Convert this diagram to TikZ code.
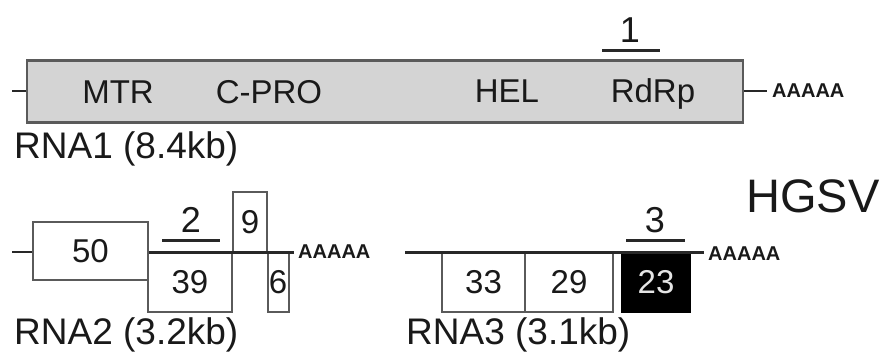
\documentclass[tikz,border=0pt]{standalone}
\usepackage{fontspec}
\setmainfont{Liberation Sans}
\definecolor{genefill}{RGB}{212,212,212}
\definecolor{edgegray}{RGB}{90,90,90}
\definecolor{linedark}{RGB}{40,40,40}
\definecolor{textdark}{RGB}{25,25,25}
\begin{document}
\begin{tikzpicture}[x=1pt,y=-1pt,
  rnabox/.style={draw=edgegray, line width=2.8pt, fill=genefill, inner sep=0pt},
  orfbox/.style={draw=edgegray, line width=2pt, fill=white, inner sep=0pt,
    font=\fontsize{33}{33}\selectfont, text=textdark},
  rnaline/.style={draw=linedark, line width=3pt},
  thinline/.style={draw=linedark, line width=2.2pt},
  barline/.style={draw=linedark, line width=3pt},
  domlabel/.style={inner sep=0pt, anchor=base, font=\fontsize{33}{33}\selectfont, text=textdark},
  rnalabel/.style={inner sep=0pt, anchor=base west, font=\fontsize{37}{37}\selectfont, text=textdark},
  numlabel/.style={inner sep=0pt, anchor=base, font=\fontsize{36}{36}\selectfont, text=textdark},
  polya/.style={inner sep=0pt, anchor=west, font=\fontsize{20}{20}\bfseries\selectfont, text=textdark}
]
\useasboundingbox (0,0) rectangle (889,354);

% ---------- RNA1 ----------
\node[rnabox, minimum width=716pt, minimum height=62pt] (rna1) at (385,91.5) {};
\coordinate (l1) at (12,91);
\coordinate (r1) at (767,91);
\draw[thinline] (l1) -- (rna1.west |- l1);
\draw[thinline] (rna1.east |- r1) -- (r1);
\node[polya] (pa1) at (772,91) {AAAAA};
\node[domlabel] (mtr) at (118,103) {MTR};
\node[domlabel] (cpro) at (269,103) {C-PRO};
\node[domlabel] (hel) at (507,102) {HEL};
\node[domlabel] (rdrp) at (653,102) {RdRp};
\node[numlabel] (n1) at (630,42) {1};
\draw[barline] (602,50) -- (660,50);
\node[rnalabel] (lab1) at (14,158) {RNA1 (8.4kb)};

% ---------- RNA2 ----------
\node[orfbox, minimum width=115pt, minimum height=58pt] (b50) at (90.5,251) {50};
\node[orfbox, minimum width=84pt, minimum height=59pt] (b39) at (190,282) {39};
\node[orfbox, minimum width=34pt, minimum height=60pt] (b9) at (250,222) {9};
\node[orfbox, minimum width=21pt, minimum height=59pt] (b6) at (278,282) {6};
\coordinate (l2) at (12,252);
\coordinate (r2) at (294,252);
\draw[thinline] (l2) -- (b50.west |- l2);
\draw[rnaline] (b50.east |- r2) -- (r2);
\node[polya] (pa2) at (298,252) {AAAAA};
\node[numlabel] (n2) at (191,232) {2};
\draw[barline] (162,240) -- (220,240);
\node[rnalabel] (lab2) at (14,344) {RNA2 (3.2kb)};

% ---------- RNA3 ----------
\node[orfbox, minimum width=83pt, minimum height=59pt] (b33) at (483.5,282) {33};
\node[orfbox, minimum width=88pt, minimum height=59pt] (b29) at (569,282) {29};
\node[orfbox, fill=black, draw=black, text=white!90!black, minimum width=68pt, minimum height=59pt] (b23) at (656,282) {23};
\coordinate (l3) at (405,252);
\coordinate (r3) at (704,252);
\draw[rnaline] (l3) -- (r3);
\node[polya] (pa3) at (708,254) {AAAAA};
\node[numlabel] (n3) at (655,232) {3};
\draw[barline] (626,240) -- (685,240);
\node[rnalabel] (lab3) at (406,344) {RNA3 (3.1kb)};

% ---------- virus name ----------
\node[inner sep=0pt, anchor=base west, font=\fontsize{47}{47}\selectfont, text=textdark] (hgsv) at (746,212) {HGSV};
\end{tikzpicture}
\end{document}
